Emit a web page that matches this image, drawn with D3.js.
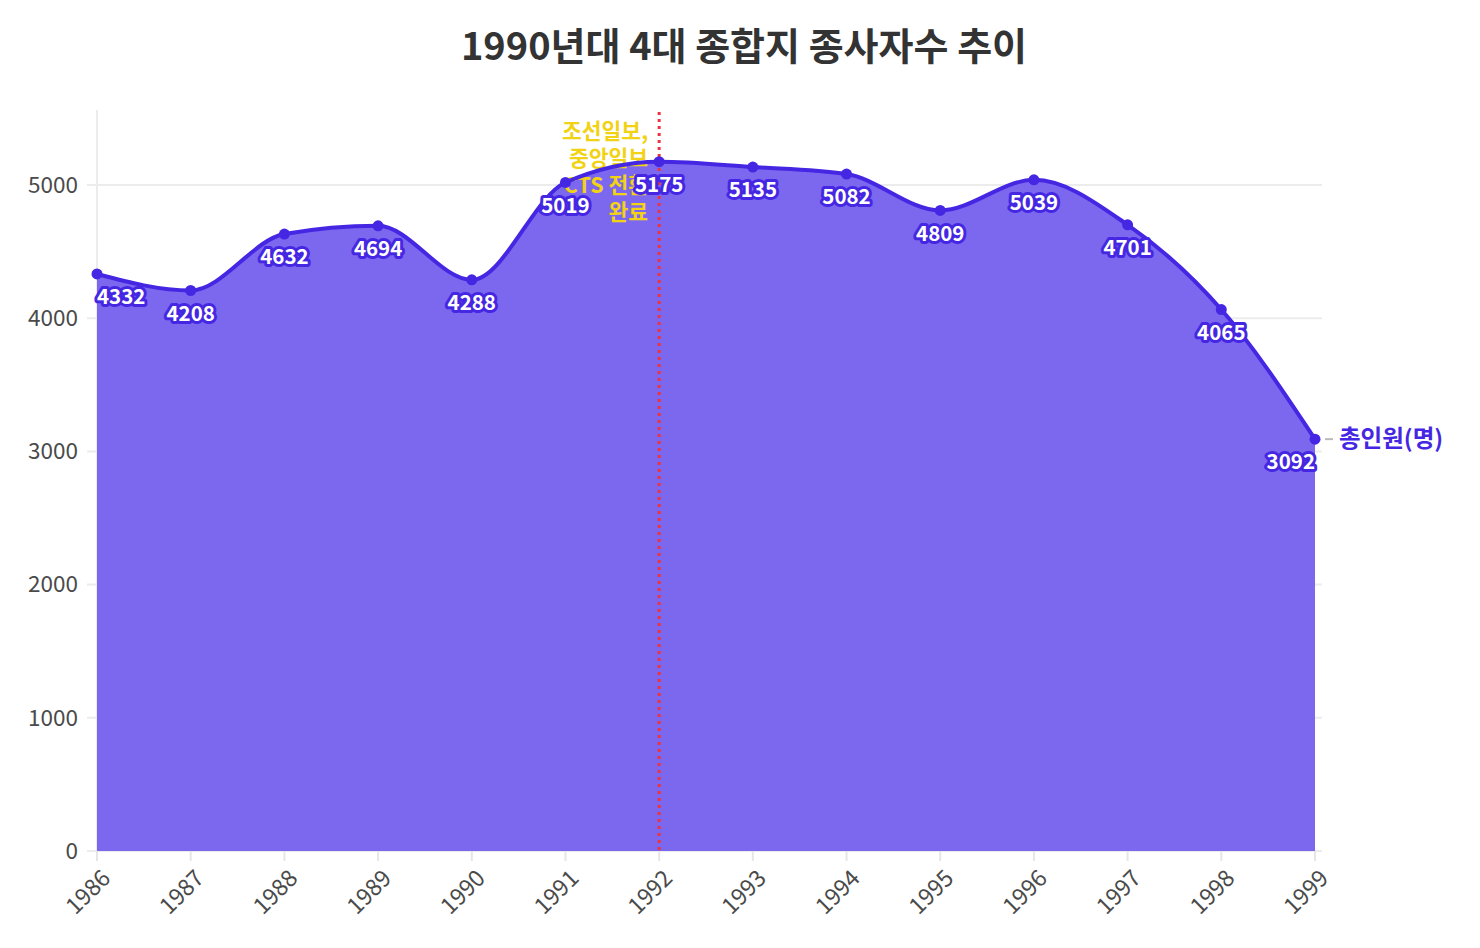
<!DOCTYPE html>
<html><head><meta charset="utf-8">
<script src="https://cdn.jsdelivr.net/npm/d3@7/dist/d3.min.js"></script>
<style>
body{margin:0;background:#fff;font-family:"Noto Sans CJK KR","Noto Sans",sans-serif;}
</style></head><body>
<svg id="c" width="1480" height="948"></svg>
<script>
const years = [1986,1987,1988,1989,1990,1991,1992,1993,1994,1995,1996,1997,1998,1999];
const totals = [4332,4208,4632,4694,4288,5019,5175,5135,5082,4809,5039,4701,4065,3092];
const yTicks = [0,1000,2000,3000,4000,5000];
const seriesName = "총인원(명)";
const title = "1990년대 4대 종합지 종사자수 추이";
const annoYear = 1992;
const annoLines = ["조선일보,","중앙일보","CTS 전환","완료"];

const svg = d3.select("#c");
const font = '"Noto Sans CJK KR","Noto Sans",sans-serif';
const m = {l:97, r:1315, t:110, b:851};
const x = d3.scaleLinear().domain([years[0], years[years.length-1]]).range([m.l, m.r]);
const y = d3.scaleLinear().domain([0, d3.max(totals)*1.075]).range([m.b, m.t]);

svg.append("text").attr("x",744).attr("y",60).attr("text-anchor","middle")
  .attr("font-family",font).attr("font-weight",700).attr("font-size",38).attr("fill","#333").text(title);

// grid
const g = svg.append("g");
g.selectAll("line.h").data(yTicks).join("line")
  .attr("x1",m.l-10).attr("x2",m.r+7).attr("y1",d=>y(d)).attr("y2",d=>y(d))
  .attr("stroke","#ececec").attr("stroke-width",2);
g.append("line").attr("x1",m.l).attr("x2",m.l).attr("y1",m.t).attr("y2",m.b)
  .attr("stroke","#ececec").attr("stroke-width",2);
g.selectAll("line.v").data(years).join("line")
  .attr("x1",d=>x(d)).attr("x2",d=>x(d)).attr("y1",m.b).attr("y2",m.b+10)
  .attr("stroke","#e6e6e6").attr("stroke-width",2);
g.selectAll("text.yt").data(yTicks).join("text")
  .attr("x",m.l-19).attr("y",d=>y(d)).attr("dy","0.35em").attr("text-anchor","end")
  .attr("font-family",font).attr("font-size",22.5).attr("fill","#4a4a4a").text(d=>d);
g.selectAll("text.xt").data(years).join("text")
  .attr("transform",d=>`translate(${x(d)+9},${m.b+23}) rotate(-45)`)
  .attr("text-anchor","end").attr("dy","0.35em")
  .attr("font-family",font).attr("font-size",23).attr("fill","#4a4a4a").text(d=>d);

const pts = years.map((yr,i)=>({yr,v:totals[i]}));
const area = d3.area().x(d=>x(d.yr)).y0(m.b).y1(d=>y(d.v)).curve(d3.curveMonotoneX);
const line = d3.line().x(d=>x(d.yr)).y(d=>y(d.v)).curve(d3.curveMonotoneX);
svg.append("path").datum(pts).attr("d",area).attr("fill","#7b68ee");

// annotation line
svg.append("line").attr("x1",x(annoYear)).attr("x2",x(annoYear)).attr("y1",m.t+2).attr("y2",m.b)
  .attr("stroke","#ee3340").attr("stroke-width",3).attr("stroke-dasharray","3,4");
svg.append("text").attr("x",x(annoYear)-11).attr("y",139).attr("text-anchor","end")
  .attr("font-family",font).attr("font-weight",700).attr("font-size",21.5).attr("fill","#f2d214")
  .selectAll("tspan").data(annoLines).join("tspan")
  .attr("x",x(annoYear)-11).attr("dy",(d,i)=>i===0?0:27).text(d=>d);

svg.append("path").datum(pts).attr("d",line).attr("fill","none").attr("stroke","#4527e3").attr("stroke-width",4);
svg.selectAll("circle.p").data(pts).join("circle")
  .attr("cx",d=>x(d.yr)).attr("cy",d=>y(d.v)).attr("r",5.5).attr("fill","#4527e3");

// value labels
svg.selectAll("text.lab").data(pts).join("text")
  .attr("x",d=>x(d.yr))
  .attr("y",d=>y(d.v)+23).attr("dy","0.35em")
  .attr("text-anchor",(d,i)=>i===0?"start":(i===pts.length-1?"end":"middle"))
  .attr("font-family",font).attr("font-weight",700).attr("font-size",20.5)
  .attr("fill","#fff").attr("stroke","#4527e3").attr("stroke-width",6)
  .attr("stroke-linejoin","round").attr("paint-order","stroke").text(d=>d.v);

// series label
const last = pts[pts.length-1];
svg.append("line").attr("x1",x(last.yr)+10).attr("x2",x(last.yr)+18)
  .attr("y1",y(last.v)).attr("y2",y(last.v)).attr("stroke","#bbb").attr("stroke-width",2);
svg.append("text").attr("x",x(last.yr)+24).attr("y",y(last.v)).attr("dy","0.35em")
  .attr("font-family",font).attr("font-weight",700).attr("font-size",23.5).attr("fill","#4527e3").text(seriesName);
</script></body></html>
